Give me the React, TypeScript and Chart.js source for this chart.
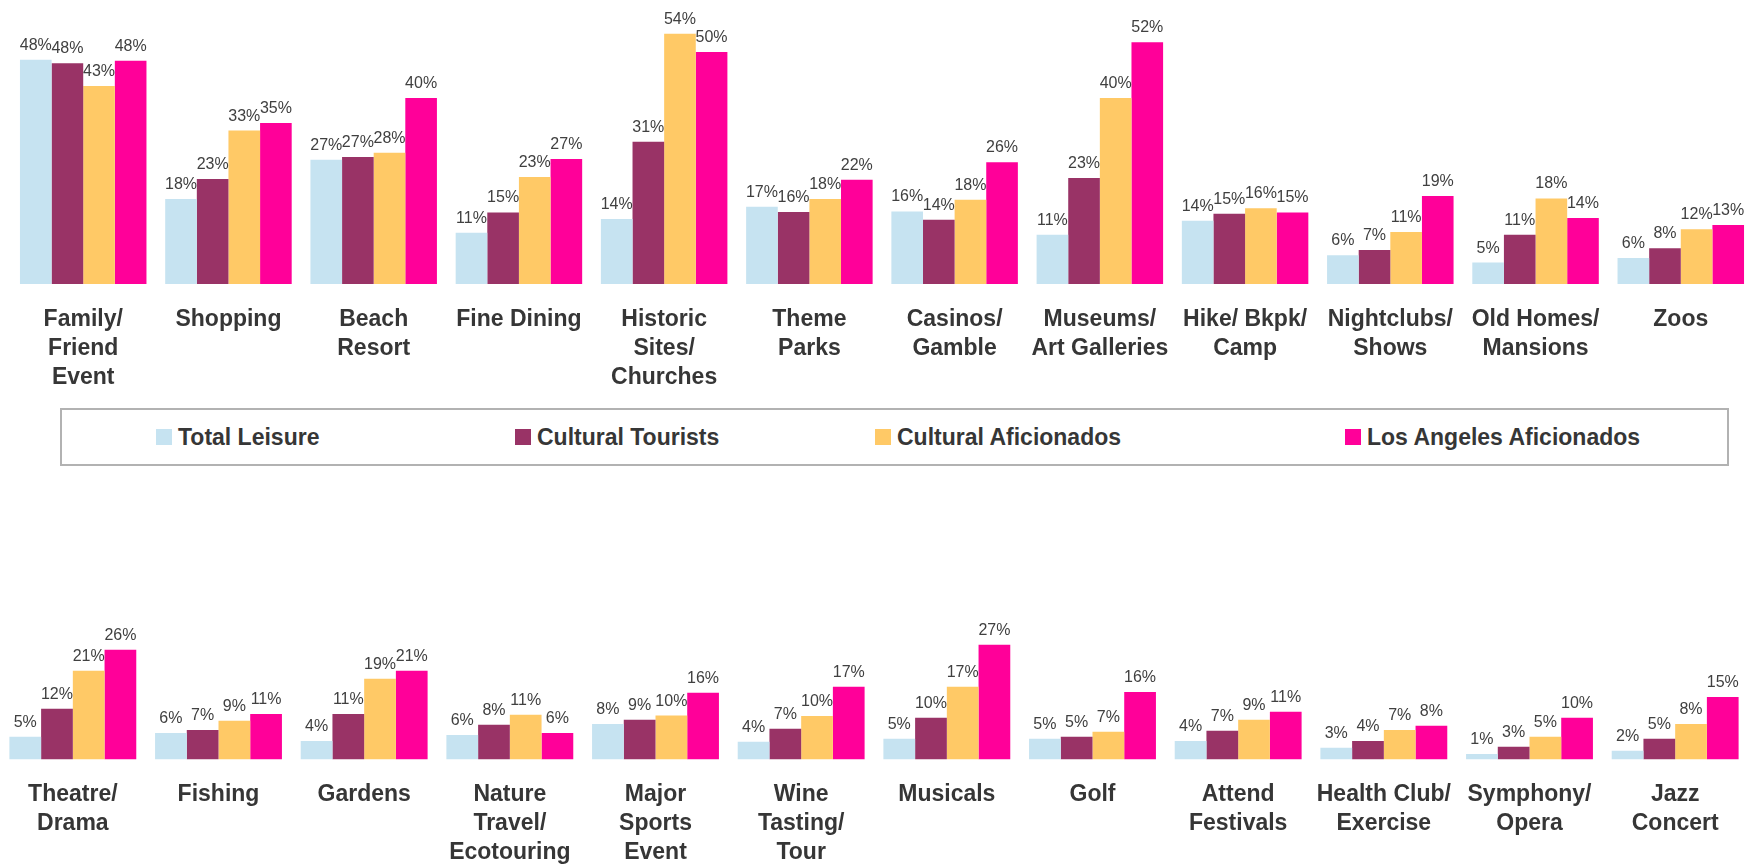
import React, { useEffect, useRef } from 'react';
import { Chart, registerables } from 'chart.js';

Chart.register(...registerables);

// ---------- DATA ----------
const seriesNames = ['Total Leisure', 'Cultural Tourists', 'Cultural Aficionados', 'Los Angeles Aficionados'];
const seriesColors = ['#C6E3F1', '#993366', '#FFC966', '#FF0099'];

const topCategories: string[][] = [
  ['Family/', 'Friend', 'Event'],
  ['Shopping'],
  ['Beach', 'Resort'],
  ['Fine Dining'],
  ['Historic', 'Sites/', 'Churches'],
  ['Theme', 'Parks'],
  ['Casinos/', 'Gamble'],
  ['Museums/', 'Art Galleries'],
  ['Hike/ Bkpk/', 'Camp'],
  ['Nightclubs/', 'Shows'],
  ['Old Homes/', 'Mansions'],
  ['Zoos'],
];
const topTotalLeisure = [48.2, 18.3, 26.7, 11.0, 14.0, 16.6, 15.6, 10.6, 13.6, 6.2, 4.6, 5.6];
const topCulturalTourists = [47.5, 22.6, 27.3, 15.4, 30.6, 15.5, 13.8, 22.8, 15.1, 7.3, 10.6, 7.7];
const topCulturalAficionados = [42.6, 33.0, 28.2, 23.0, 53.8, 18.3, 18.1, 40.0, 16.3, 11.2, 18.4, 11.8];
const topLAAficionados = [48.0, 34.6, 40.0, 26.9, 49.9, 22.4, 26.2, 52.0, 15.4, 18.9, 14.2, 12.7];

const bottomCategories: string[][] = [
  ['Theatre/', 'Drama'],
  ['Fishing'],
  ['Gardens'],
  ['Nature', 'Travel/', 'Ecotouring'],
  ['Major', 'Sports', 'Event'],
  ['Wine', 'Tasting/', 'Tour'],
  ['Musicals'],
  ['Golf'],
  ['Attend', 'Festivals'],
  ['Health Club/', 'Exercise'],
  ['Symphony/', 'Opera'],
  ['Jazz', 'Concert'],
];
const bottomTotalLeisure = [5.4, 6.3, 4.4, 5.8, 8.4, 4.2, 4.9, 4.9, 4.4, 2.8, 1.3, 2.1];
const bottomCulturalTourists = [12.0, 7.0, 10.8, 8.2, 9.4, 7.3, 9.9, 5.4, 6.8, 4.4, 3.0, 4.9];
const bottomCulturalAficionados = [21.0, 9.2, 19.1, 10.6, 10.4, 10.3, 17.2, 6.6, 9.4, 7.0, 5.4, 8.4];
const bottomLAAficionados = [26.0, 10.8, 21.0, 6.3, 15.8, 17.2, 27.2, 16.0, 11.3, 8.0, 9.9, 14.8];

// ---------- PANEL ----------
const FONT = '"Liberation Sans", Arial, sans-serif';

const valueLabelPlugin = {
  id: 'valueLabels',
  afterDatasetsDraw(chart: any) {
    const ctx = chart.ctx;
    ctx.save();
    ctx.font = `16px ${FONT}`;
    ctx.fillStyle = '#404040';
    ctx.textAlign = 'center';
    ctx.textBaseline = 'alphabetic';
    chart.data.datasets.forEach((ds: any, i: number) => {
      const meta = chart.getDatasetMeta(i);
      meta.data.forEach((bar: any, j: number) => {
        const v = ds.data[j];
        ctx.fillText(Math.round(v) + '%', bar.x, bar.y - 10);
      });
    });
    ctx.restore();
  },
};

type PanelProps = {
  categories: string[][];
  series: number[][];
  yMax: number;
  top: number;
  height: number;
  padLeft: number;
  padRight: number;
  padTop: number;
  axisHeight: number;
  tickPadding: number;
};

function Panel(p: PanelProps) {
  const ref = useRef<HTMLCanvasElement | null>(null);
  useEffect(() => {
    if (!ref.current) return;
    const chart = new Chart(ref.current, {
      type: 'bar',
      data: {
        labels: p.categories,
        datasets: p.series.map((d, i) => ({
          label: seriesNames[i],
          data: d,
          backgroundColor: seriesColors[i],
          borderWidth: 0,
          categoryPercentage: 0.871,
          barPercentage: 1.0,
        })),
      },
      options: {
        responsive: false,
        animation: false,
        devicePixelRatio: 1,
        layout: { padding: { left: p.padLeft, right: p.padRight, top: p.padTop, bottom: 0 } },
        plugins: { legend: { display: false }, tooltip: { enabled: false } },
        scales: {
          x: {
            grid: { display: false, drawTicks: false },
            border: { display: false },
            ticks: {
              autoSkip: false,
              maxRotation: 0,
              minRotation: 0,
              padding: p.tickPadding,
              color: '#363636',
              font: { family: FONT, size: 23, weight: 'bold', lineHeight: 1.26 },
            },
            afterFit: (scale: any) => {
              scale.height = p.axisHeight;
            },
          },
          y: { display: false, min: 0, max: p.yMax },
        },
      },
      plugins: [valueLabelPlugin],
    });
    return () => chart.destroy();
  }, []);
  return (
    <canvas
      ref={ref}
      width={1757}
      height={p.height}
      style={{ position: 'absolute', left: 0, top: p.top, width: 1757, height: p.height }}
    />
  );
}

const legendLefts = [156, 515, 875, 1345];

function Legend() {
  return (
    <div
      style={{
        position: 'absolute',
        left: 60,
        top: 408,
        width: 1669,
        height: 58,
        boxSizing: 'border-box',
        border: '2px solid #b2b2b2',
      }}
    >
      {seriesNames.map((name, i) => (
        <div
          key={name}
          style={{
            position: 'absolute',
            left: legendLefts[i] - 60 - 2,
            top: 0,
            height: 54,
            display: 'flex',
            alignItems: 'center',
            whiteSpace: 'nowrap',
          }}
        >
          <span style={{ display: 'inline-block', width: 16, height: 16, background: seriesColors[i], marginRight: 6 }} />
          <span style={{ font: `bold 23px ${FONT}`, color: '#363636' }}>{name}</span>
        </div>
      ))}
    </div>
  );
}

export default function App() {
  return (
    <div style={{ position: 'absolute', left: 0, top: 0, width: 1757, height: 865, overflow: 'hidden', background: '#fff' }}>
      <Panel
        categories={topCategories}
        series={[topTotalLeisure, topCulturalTourists, topCulturalAficionados, topLAAficionados]}
        yMax={60}
        top={0}
        height={400}
        padLeft={10.6}
        padRight={3.6}
        padTop={5}
        axisHeight={116}
        tickPadding={21.5}
      />
      <Legend />
      <Panel
        categories={bottomCategories}
        series={[bottomTotalLeisure, bottomCulturalTourists, bottomCulturalAficionados, bottomLAAficionados]}
        yMax={30}
        top={560}
        height={305}
        padLeft={0}
        padRight={9}
        padTop={72.8}
        axisHeight={105.5}
        tickPadding={20.5}
      />
    </div>
  );
}
